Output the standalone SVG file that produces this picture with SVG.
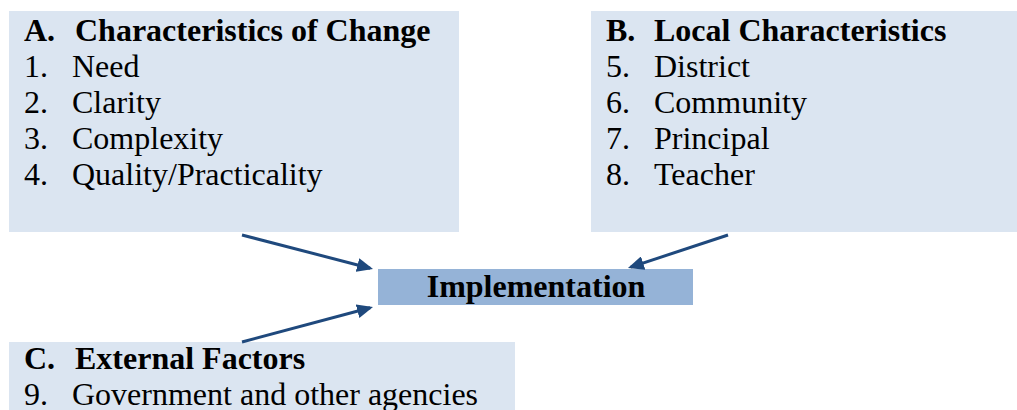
<svg xmlns="http://www.w3.org/2000/svg" width="1017" height="410" viewBox="0 0 1017 410">
<style>
.box{fill:#dbe5f1}
.impl{fill:#95b3d7}
text{font-family:"Liberation Serif","Times New Roman",serif;font-size:32px;fill:#000}
.b{font-weight:bold}
.conn{stroke:#1f497d;stroke-width:3;fill:none;marker-end:url(#ah)}
</style>
<defs>
<marker id="ah" viewBox="0 0 16 14" refX="13" refY="7" markerWidth="16" markerHeight="14" orient="auto" markerUnits="userSpaceOnUse">
<path d="M0,0 L16,7 L0,14 z" fill="#1f497d"/>
</marker>
</defs>
<rect width="1017" height="410" fill="#fff"/>
<g id="nodeA">
<rect class="box" x="9" y="11" width="450" height="221"/>
<text class="b" x="24" y="41">A.</text><text class="b" x="75" y="41">Characteristics of Change</text>
<text x="24" y="77">1.</text><text x="72" y="77">Need</text>
<text x="24" y="113">2.</text><text x="72" y="113">Clarity</text>
<text x="24" y="149">3.</text><text x="72" y="149">Complexity</text>
<text x="24" y="185">4.</text><text x="72" y="185">Quality/Practicality</text>
</g>
<g id="nodeB">
<rect class="box" x="591" y="11" width="426" height="221"/>
<text class="b" x="606" y="41">B.</text><text class="b" x="654" y="41">Local Characteristics</text>
<text x="606" y="77">5.</text><text x="654" y="77">District</text>
<text x="606" y="113">6.</text><text x="654" y="113">Community</text>
<text x="606" y="149">7.</text><text x="654" y="149">Principal</text>
<text x="606" y="185">8.</text><text x="654" y="185">Teacher</text>
</g>
<g id="nodeImpl">
<rect class="impl" x="378" y="269" width="315" height="36"/>
<text class="b" x="536" y="297" text-anchor="middle">Implementation</text>
</g>
<g id="nodeC">
<rect class="box" x="9" y="342" width="506" height="68"/>
<text class="b" x="24" y="369">C.</text><text class="b" x="75" y="369">External Factors</text>
<text x="24" y="405">9.</text><text x="72" y="405">Government and other agencies</text>
</g>
<g id="connectors">
<line class="conn" x1="242" y1="235" x2="370.1" y2="268.2"/>
<line class="conn" x1="728" y1="235" x2="630.8" y2="267.1"/>
<line class="conn" x1="242" y1="342" x2="370.1" y2="307.8"/>
</g>
</svg>
